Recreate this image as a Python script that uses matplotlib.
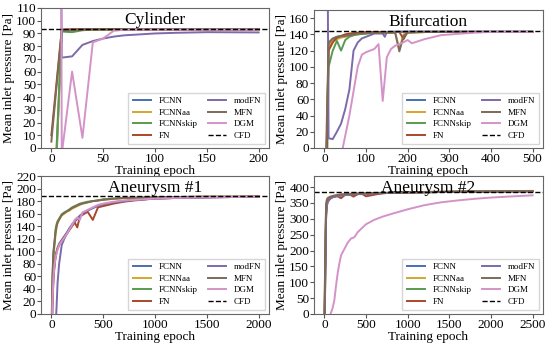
import matplotlib
matplotlib.use('Agg')
import matplotlib.pyplot as plt

plt.rcParams['font.family'] = ['Liberation Serif', 'DejaVu Serif']

names = ['FCNN', 'FCNNaa', 'FCNNskip', 'FN', 'modFN', 'MFN', 'DGM']
colors = ['#4a6eb0', '#d4a72c', '#5a9a4e', '#a8472a', '#7c6aaa', '#7d6a58', '#d493c8']

# ---- Cylinder ----
cyl_x = [0, 10, 20, 30, 40, 50, 60, 70, 80, 100, 120, 150, 200]
cyl_fcnn = [-110, 93, 93, 93.2, 93.3, 93.3, 93.3, 93.3, 93.3, 93.3, 93.3, 93.3, 93.3]
cyl_fcnnaa = [-100, 92.5, 92.5, 93, 93.2, 93.2, 93.2, 93.2, 93.2, 93.2, 93.2, 93.2, 93.2]
cyl_fcnnskip = [-90, 91.5, 91, 92.5, 93, 93.2, 93.2, 93.2, 93.2, 93.2, 93.2, 93.2, 93.2]
cyl_fn = [10, 93, 93.3, 93.3, 93.3, 93.3, 93.3, 93.3, 93.3, 93.3, 93.3, 93.3, 93.3]
cyl_mfn = [5, 92, 92.5, 93, 93.2, 93.2, 93.2, 93.2, 93.2, 93.2, 93.2, 93.2, 93.2]
cyl_modfn_x = [9, 10, 20, 30, 40, 50, 60, 70, 80, 100, 120, 150, 200]
cyl_modfn = [200, 71, 72, 81, 84, 86, 87.5, 88.5, 89, 90, 90.5, 91, 90.8]
cyl_dgm_x = [9.5, 10, 20, 30, 40, 50, 60, 70, 80, 100, 150, 200]
cyl_dgm = [200, -5, 60, 8, 83, 86, 92, 93, 93, 93, 93, 93]
cyl_cfd = 93.5

# ---- Bifurcation ----
bif_x = [0, 10, 20, 30, 40, 50, 60, 70, 80, 100, 120, 150, 170, 180, 190, 200, 250, 300, 400, 500]
bif_fcnn = [-200, 128, 134, 137, 138, 139, 140, 141, 141, 142, 142.5, 143, 143, 143, 143, 143, 143, 143, 143, 143]
bif_fcnnaa = [-150, 125, 132, 134, 136, 137, 138, 139, 140, 141, 142, 142, 142, 122, 140, 142, 143, 143, 143, 143]
bif_fcnnskip = [-250, 100, 120, 132, 120, 133, 137, 139, 140, 141, 142, 142.5, 143, 143, 143, 143, 143, 143, 143, 143]
bif_fn = [-150, 120, 130, 136, 138, 140, 141, 141.5, 142, 143, 143, 143, 143, 143, 134, 143, 143, 143, 143, 143]
bif_mfn = [-100, 130, 135, 137, 137.5, 138, 139, 140, 141, 141.5, 142, 142, 142, 119, 138, 142, 143, 143, 143, 143]
bif_modfn_x = [7, 10, 20, 30, 40, 50, 60, 70, 80, 90, 100, 120, 140, 145, 150, 200, 300, 500]
bif_modfn = [300, 12, 11, 20, 30, 48, 72, 120, 130, 135, 137, 141, 141, 137, 143, 143.5, 143.5, 143.5]
bif_dgm_x = [40, 60, 70, 80, 90, 100, 110, 120, 130, 140, 150, 160, 170, 185, 200, 210, 240, 280, 330, 360, 400, 500]
bif_dgm = [-10, 40, 70, 100, 115, 118, 120, 122, 128, 58, 112, 122, 126, 129, 133, 129, 134, 139, 141, 142, 143, 143]
bif_cfd = 144

# ---- Aneurysm #1 ----
a1_x = [0, 10, 20, 30, 40, 50, 60, 75, 100, 125, 150, 175, 200, 225, 250, 275, 300, 350,
        400, 450, 500, 600, 700, 800, 1000, 1200, 1500, 2000]
a1_fcnn = [-80, 20, 60, 80, 92, 100, 106, 112, 118, 124, 130, 137, 143, 147, 152, 156, 160, 165,
           169, 173, 175, 178, 180, 182, 184, 185, 186, 187]
a1_fcnnaa = [-60, 40, 90, 110, 125, 138, 145, 150, 157, 160, 163, 165, 168, 170, 172, 174, 176, 178,
             180, 181, 182, 183.5, 184.5, 185, 186, 186.5, 187, 187]
a1_fcnnskip = [-50, 50, 95, 112, 135, 143, 148, 152, 159, 162, 164, 167, 170, 172, 174, 176, 177, 179,
               180, 181, 183, 184, 185, 185.5, 186, 186.5, 187, 187]
a1_fn = [-100, 10, 55, 75, 90, 98, 104, 110, 117, 123, 128, 134, 140, 146, 138, 155, 158, 163,
         150, 170, 172, 176, 179, 181, 184, 185, 186, 187]
a1_modfn = [-400, -300, -200, -100, -20, 10, 50, 80, 110, 120, 128, 136, 142, 148, 152, 157, 160, 165,
            169, 172, 175, 178, 180, 182, 184, 185, 186, 187]
a1_mfn = [-40, 60, 100, 115, 130, 140, 146, 151, 158, 161, 164, 166, 169, 171, 173, 175, 176, 178,
          180, 181, 182, 184, 185, 185.5, 186, 186.5, 187, 187]
a1_dgm = [-90, 15, 58, 78, 90, 96, 103, 110, 116, 122, 128, 135, 142, 150, 154, 150, 162, 166,
          170, 174, 176, 179, 181, 182, 184, 185, 186, 187]
a1_cfd = 188

# ---- Aneurysm #2 ----
a2_x = [0, 10, 20, 30, 40, 60, 80, 100, 150, 200, 250, 300, 350, 400, 450, 500, 700, 1000, 1500, 2000, 2500]
a2_fcnn = [-50, 150, 330, 355, 362, 366, 369, 371, 373, 375, 376, 377, 377, 378, 378, 379, 381, 383, 385, 386, 387]
a2_fcnnaa = [-40, 180, 340, 362, 366, 369, 371, 372, 374, 376, 377, 377, 378, 379, 379, 380, 381, 383, 385, 386, 387]
a2_fcnnskip = [-60, 130, 320, 350, 358, 364, 367, 370, 372, 374, 376, 377, 377, 378, 379, 379, 381, 383, 385, 386, 387]
a2_fn = [-70, 120, 310, 345, 356, 362, 366, 368, 372, 365, 376, 377, 370, 378, 379, 371, 381, 383, 385, 386, 387]
a2_modfn = [-80, 100, 300, 340, 352, 360, 365, 368, 371, 373, 375, 376, 377, 378, 378, 379, 381, 383, 385, 386, 387]
a2_mfn = [-30, 200, 345, 360, 365, 368, 370, 372, 375, 377, 378, 379, 379, 380, 380, 381, 382, 384, 386, 387, 388]
a2_dgm_x = [50, 80, 100, 120, 140, 160, 180, 200, 240, 280, 320, 360, 400, 500, 600, 700, 800,
            1000, 1200, 1400, 1600, 1800, 2000, 2200, 2500]
a2_dgm = [-20, 5, 20, 45, 90, 130, 160, 185, 205, 225, 238, 242, 258, 283, 297, 307, 315,
          330, 343, 352, 358, 363, 367, 370, 374]
a2_cfd = 383

panels = [
    ('Cylinder', [41, 8, 269, 148], (0, 110), 10, 50, [
        (cyl_x, cyl_fcnn), (cyl_x, cyl_fcnnaa), (cyl_x, cyl_fcnnskip), (cyl_x, cyl_fn),
        (cyl_modfn_x, cyl_modfn), (cyl_x, cyl_mfn), (cyl_dgm_x, cyl_dgm)], cyl_cfd, (0, 200)),
    ('Bifurcation', [314, 10, 543, 148], (0, 170), 20, 100, [
        (bif_x, bif_fcnn), (bif_x, bif_fcnnaa), (bif_x, bif_fcnnskip), (bif_x, bif_fn),
        (bif_modfn_x, bif_modfn), (bif_x, bif_mfn), (bif_dgm_x, bif_dgm)], bif_cfd, (0, 500)),
    ('Aneurysm #1', [41, 176, 269, 314], (0, 220), 20, 500, [
        (a1_x, a1_fcnn), (a1_x, a1_fcnnaa), (a1_x, a1_fcnnskip), (a1_x, a1_fn),
        (a1_x, a1_modfn), (a1_x, a1_mfn), (a1_x, a1_dgm)], a1_cfd, (0, 2000)),
    ('Aneurysm #2', [314, 176, 543, 314], (0, 435), 50, 500, [
        (a2_x, a2_fcnn), (a2_x, a2_fcnnaa), (a2_x, a2_fcnnskip), (a2_x, a2_fn),
        (a2_x, a2_modfn), (a2_x, a2_mfn), (a2_dgm_x, a2_dgm)], a2_cfd, (0, 2500)),
]

W, H = 550, 346
fig = plt.figure(figsize=(W / 100, H / 100), dpi=100)

for title, box, ylim, ystep, xstep, series, cfd, xr in panels:
    x0, y0, x1, y1 = box
    ax = fig.add_axes([x0 / W, 1 - y1 / H, (x1 - x0) / W, (y1 - y0) / H])
    for (xs, ys), name, c in zip(series, names, colors):
        ax.plot(xs, ys, color=c, lw=1.4, label=name)
    ax.axhline(cfd, color='black', ls='--', lw=1.0, label='CFD')
    pad = (xr[1] - xr[0]) * 0.05
    ax.set_xlim(xr[0] - pad, xr[1] + pad)
    ax.set_ylim(*ylim)
    ax.set_yticks(range(0, int(ylim[1]) + 1, ystep))
    ax.set_xticks(range(xr[0], xr[1] + 1, xstep))
    ax.text(0.5, 0.97, title, transform=ax.transAxes, ha='center', va='top', fontsize=12.5)
    ax.set_xlabel('Training epoch', fontsize=9.5, labelpad=0)
    ax.set_ylabel('Mean inlet pressure [Pa]', fontsize=9.5, labelpad=1)
    ax.tick_params(labelsize=9.5, length=3, color='#555555', pad=0.5)
    for s in ax.spines.values():
        s.set_color('#666666')
        s.set_linewidth(0.8)
    leg = ax.legend(loc='lower right', ncol=2, fontsize=6.5, handlelength=2.0,
                    columnspacing=1.2, labelspacing=0.35, borderpad=0.5, fancybox=False,
                    handletextpad=0.8, borderaxespad=0.4)
    leg.get_frame().set_edgecolor('#cccccc')

plt.savefig('out.png', dpi=100)
